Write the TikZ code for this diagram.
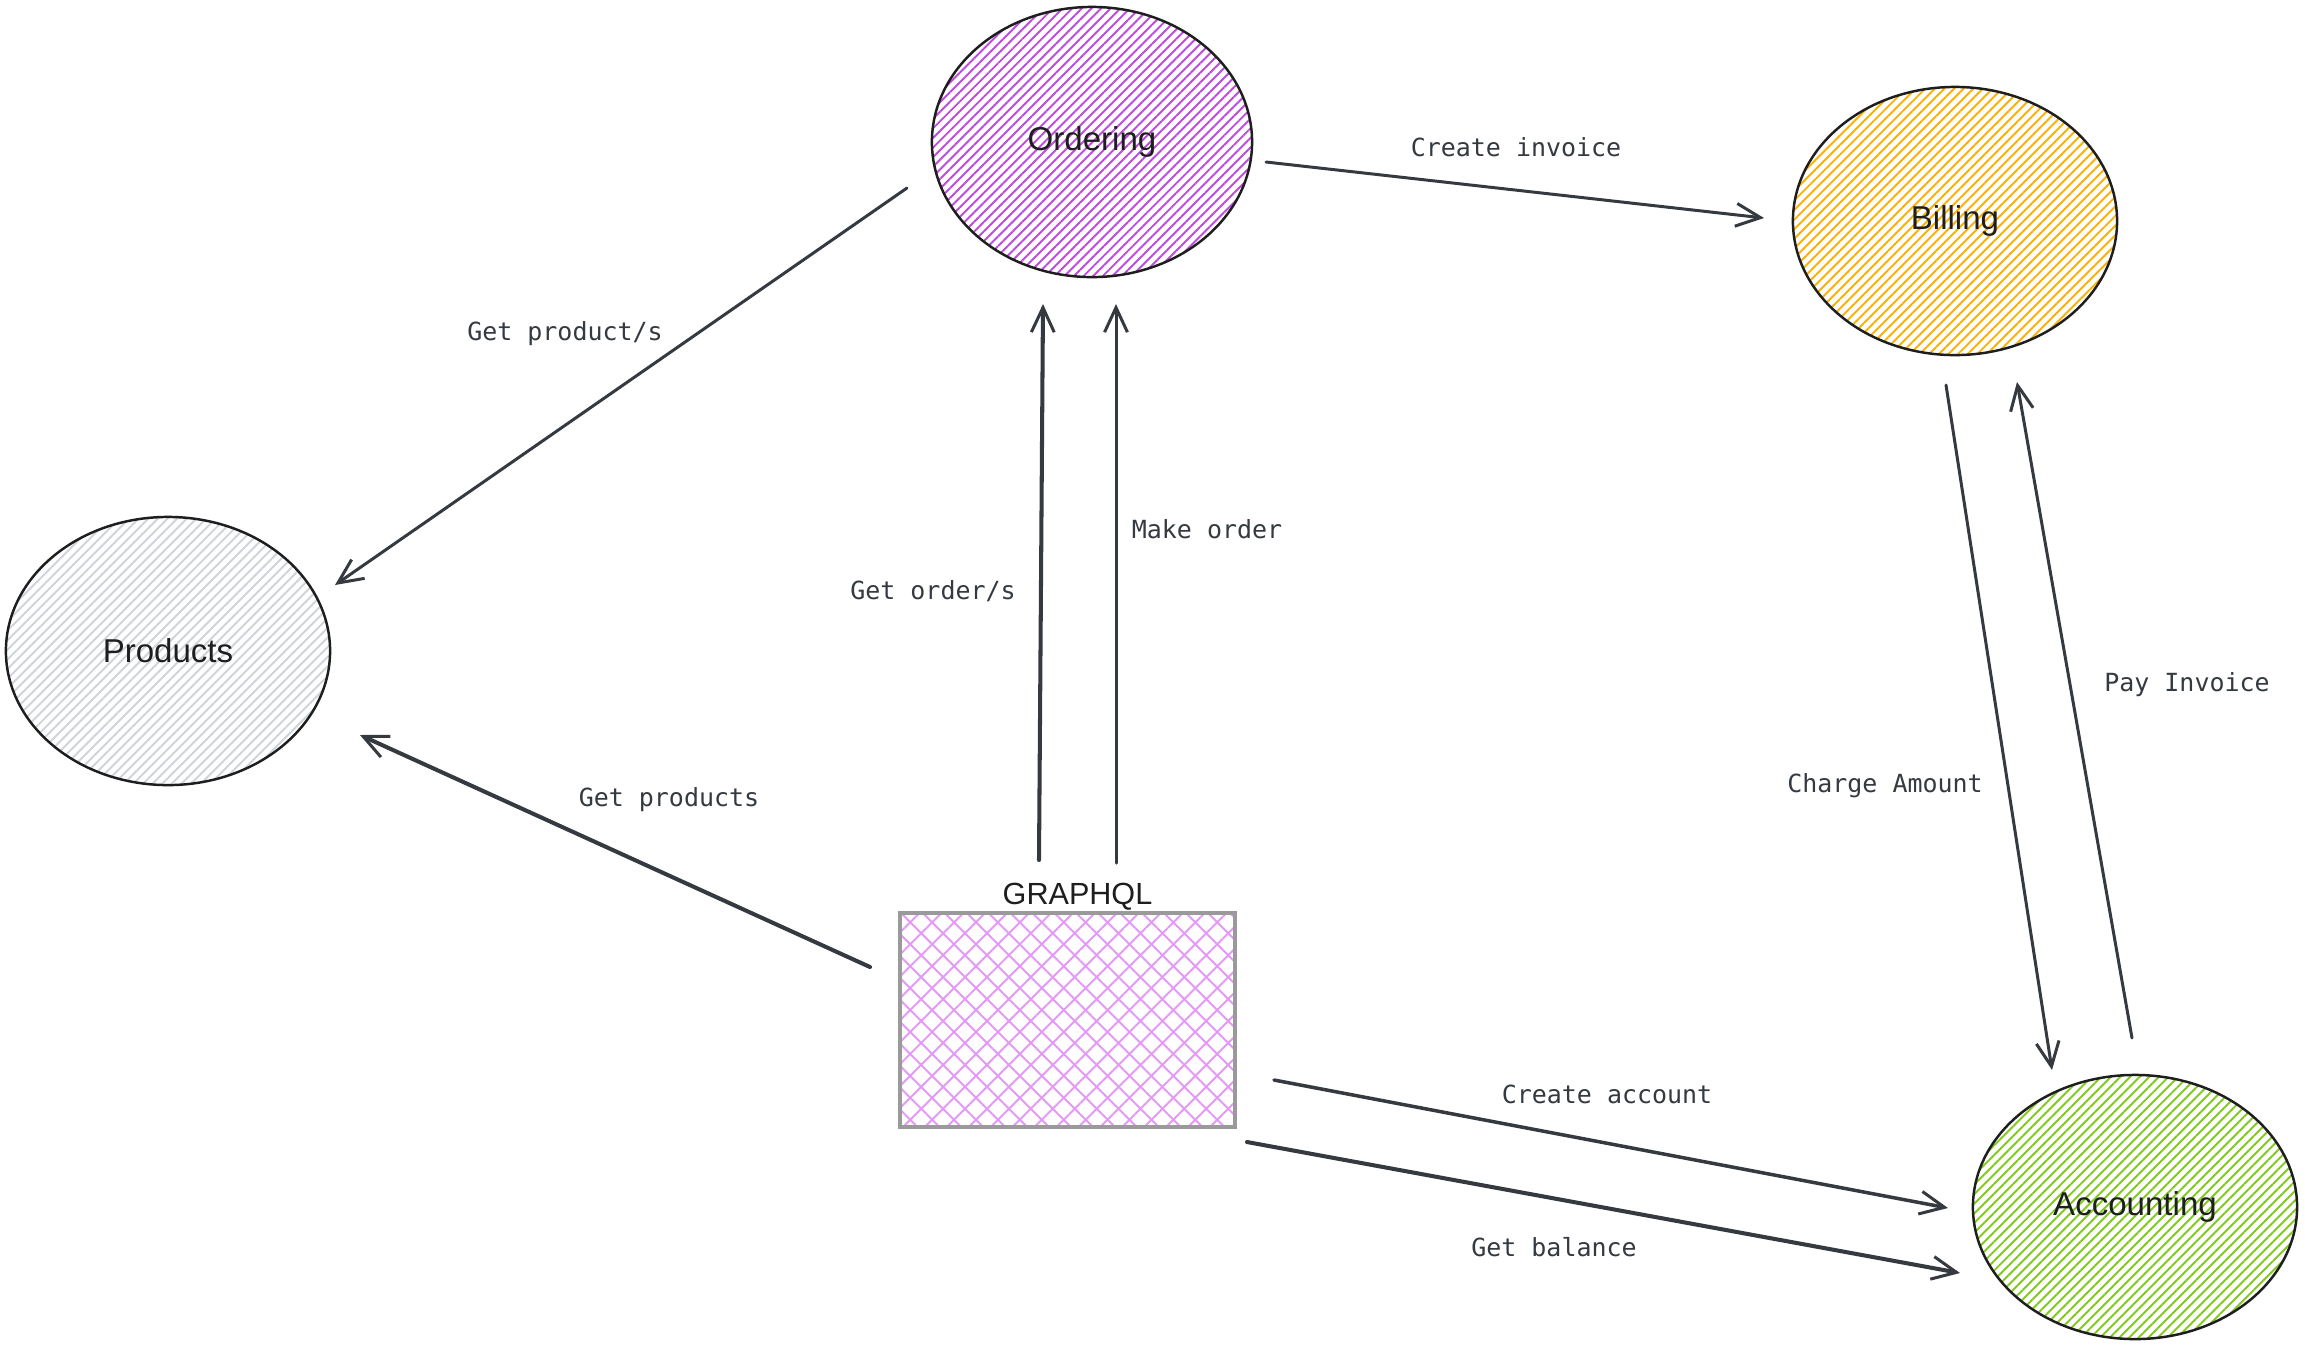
\documentclass[tikz,border=0pt]{standalone}
\usepackage{fontspec}
\setmainfont{Liberation Sans}
\newfontfamily\labelmono{DejaVu Sans Mono}
\usetikzlibrary{shapes.geometric,arrows.meta,patterns.meta,calc}
\definecolor{ink}{HTML}{1E1E1E}
\definecolor{arrowc}{HTML}{343A40}
\definecolor{ordc}{HTML}{BE4BDB}
\definecolor{billc}{HTML}{FAB005}
\definecolor{accc}{HTML}{82C91E}
\definecolor{prodc}{HTML}{CED4DA}
\definecolor{gqc}{HTML}{E599F7}
\definecolor{gqborder}{HTML}{9A9A9A}
\tikzset{
  svc/.style={ellipse, draw=ink, line width=0.7pt, inner sep=0pt,
    font=\fontsize{9.4}{11}\selectfont, text=ink},
  hatch/.style={pattern={Lines[angle=45,distance=0.068cm,line width=0.55pt]}, pattern color=#1},
  gqbox/.style={rectangle, draw=gqborder, line width=1pt, inner sep=0pt,
    preaction={pattern={Lines[angle=45,distance=0.155cm,line width=0.55pt]}, pattern color=gqc},
    pattern={Lines[angle=-45,distance=0.155cm,line width=0.55pt]}, pattern color=gqc},
  conn/.style={draw=arrowc, line width=0.85pt, line cap=round,
    -{Straight Barb[length=7pt,width=6.5pt,line width=0.85pt]}},
  connthick/.style={conn, line width=1.15pt},
  lbl/.style={font=\labelmono\fontsize{7.1}{9}\selectfont, text=arrowc, inner sep=0pt},
}
\begin{document}
\begin{tikzpicture}[x=0.01cm,y=-0.01cm]
\useasboundingbox (0,0) rectangle (2305,1350);
\fill[white] (0,0) rectangle (2305,1350);

% services
\node[svc, hatch=ordc, minimum width=3.2cm, minimum height=2.7cm] (ord) at (1092,142) {Ordering};
\node[svc, hatch=billc, minimum width=3.24cm, minimum height=2.68cm] (bill) at (1955,221) {Billing};
\node[svc, hatch=accc, minimum width=3.24cm, minimum height=2.64cm] (acc) at (2135,1207) {Accounting};
\node[svc, hatch=prodc, minimum width=3.24cm, minimum height=2.68cm] (prod) at (168,651) {Products};

% graphql gateway
\node[gqbox, minimum width=3.35cm, minimum height=2.14cm] (gq) at (1067.5,1020) {};
\node[anchor=south, inner sep=0pt, font=\fontsize{8.7}{10}\selectfont, text=ink] (gqt) at ($(gq.north)+(10,-1)$) {GRAPHQL};

% connectors
\draw[conn] ($(ord)+(-185,46)$) -- ($(prod)+(167,-66)$);
\draw[conn] ($(ord)+(174,20)$) -- ($(bill)+(-191,-3)$);
\draw[connthick] ($(gq)+(-28.5,-160)$) -- ($(ord)+(-49,162)$);
\draw[conn] ($(gq)+(48.5,-157)$) -- ($(ord)+(24,162)$);
\draw[connthick] ($(gq)+(-197.5,-53)$) -- ($(prod)+(192,84)$);
\draw[conn, line width=1pt] ($(gq)+(206.5,60)$) -- ($(acc)+(-187,1)$);
\draw[connthick] ($(gq)+(179.5,122)$) -- ($(acc)+(-175,66)$);
\draw[conn] ($(bill)+(-9,164)$) -- ($(acc)+(-83,-137)$);
\draw[conn] ($(acc)+(-3,-169)$) -- ($(bill)+(62,161)$);

% labels
\node[lbl] (l1) at (565,334) {Get product/s};
\node[lbl] (l2) at (1516,147) {Create invoice};
\node[lbl] (l3) at (933,591) {Get order/s};
\node[lbl] (l4) at (1207,529) {Make order};
\node[lbl] (l5) at (669,800) {Get products};
\node[lbl] (l6) at (1607,1094) {Create account};
\node[lbl] (l7) at (1554,1247) {Get balance};
\node[lbl] (l8) at (1885,786) {Charge Amount};
\node[lbl] (l9) at (2187,685) {Pay Invoice};
\end{tikzpicture}
\end{document}
